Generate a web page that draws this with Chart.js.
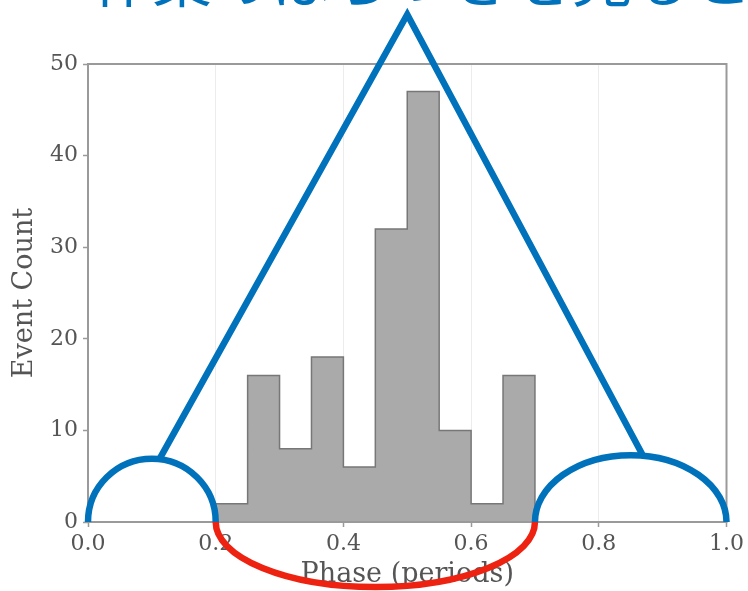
<!DOCTYPE html>
<html>
<head>
<meta charset="utf-8">
<script src="https://cdn.jsdelivr.net/npm/chart.js@4.4.1/dist/chart.umd.min.js"></script>
<style>
  html, body { margin: 0; padding: 0; background: #fff; overflow: hidden; width: 748px; height: 591px; }
</style>
</head>
<body>
<canvas id="chart" width="748" height="591"></canvas>
<script>
// histogram of event phases: bin edges and counts per bin
const binEdges  = [0.20, 0.25, 0.30, 0.35, 0.40, 0.45, 0.50, 0.55, 0.60, 0.65, 0.70];
const binCounts = [2, 16, 8, 18, 6, 32, 47, 10, 2, 16];

// axis ticks and texts
const xTicks = [0.0, 0.2, 0.4, 0.6, 0.8, 1.0];
const yTicks = [0, 10, 20, 30, 40, 50];
const headingText = '作業のばらつきを見ると';
const xTitle = 'Phase (periods)';
const yTitle = 'Event Count';

// hand-drawn sketch over the plot, in data units (phase, count)
const sketchApex      = [0.50, 55.4];
const sketchLeftFoot  = [0.113, 7.0];
const sketchRightFoot = [0.868, 7.4];
const leftHump   = { cx: 0.10, rx: 0.10, ry: 6.9 };
const rightHump  = { cx: 0.85, rx: 0.15, ry: 7.3 };
const bottomBowl = { cx: 0.45, rx: 0.25, ry: 7.1 };

const BLUE = '#0072bb';
const RED  = '#ee2211';
const INK  = '#555555';

// outline of the stepped histogram: up at the first edge, across each bin, down at the last edge
const histPoints = [{ x: binEdges[0], y: 0 }];
binCounts.forEach((c, i) => histPoints.push({ x: binEdges[i], y: c }));
histPoints.push({ x: binEdges[binEdges.length - 1], y: binCounts[binCounts.length - 1] });
histPoints.push({ x: binEdges[binEdges.length - 1], y: 0 });

// large heading whose upper part runs off the top edge of the canvas
const heading = {
  id: 'heading',
  afterDraw(chart) {
    const { ctx } = chart;
    ctx.save();
    ctx.fillStyle = BLUE;
    ctx.font = "60px 'Noto Sans CJK JP', sans-serif";
    ctx.textAlign = 'left';
    ctx.textBaseline = 'alphabetic';
    ctx.fillText(headingText, 92, 2);
    ctx.restore();
  }
};

const frame = {
  id: 'frame',
  afterDatasetsDraw(chart) {
    const { ctx, chartArea: a } = chart;
    ctx.save();
    ctx.strokeStyle = '#9a9a9a';
    ctx.lineWidth = 2;
    ctx.strokeRect(a.left, a.top, a.right - a.left, a.bottom - a.top);
    ctx.restore();
  }
};

const sketch = {
  id: 'sketch',
  afterDraw(chart) {
    const { ctx } = chart;
    const xs = chart.scales.x, ys = chart.scales.y;
    const px = v => xs.getPixelForValue(v);
    const py = v => ys.getPixelForValue(v);
    const unitX = px(1) - px(0);
    const unitY = py(0) - py(1);
    ctx.save();
    ctx.lineWidth = 6.5;
    ctx.lineJoin = 'miter';
    ctx.lineCap = 'butt';

    // triangle legs
    ctx.strokeStyle = BLUE;
    ctx.beginPath();
    ctx.moveTo(px(sketchLeftFoot[0]), py(sketchLeftFoot[1]));
    ctx.lineTo(px(sketchApex[0]), py(sketchApex[1]));
    ctx.lineTo(px(sketchRightFoot[0]), py(sketchRightFoot[1]));
    ctx.stroke();

    // two humps standing on the axis
    [leftHump, rightHump].forEach(h => {
      ctx.beginPath();
      ctx.ellipse(px(h.cx), py(0), h.rx * unitX, h.ry * unitY, 0, Math.PI, 2 * Math.PI);
      ctx.stroke();
    });

    // bowl hanging under the axis
    ctx.strokeStyle = RED;
    ctx.beginPath();
    ctx.ellipse(px(bottomBowl.cx), py(0), bottomBowl.rx * unitX, bottomBowl.ry * unitY, 0, 0, Math.PI);
    ctx.stroke();
    ctx.restore();
  }
};

Chart.defaults.font.family = "'DejaVu Serif', serif";
Chart.defaults.color = INK;

new Chart(document.getElementById('chart'), {
  type: 'line',
  data: {
    datasets: [{
      label: yTitle,
      data: histPoints,
      stepped: 'before',
      fill: 'origin',
      backgroundColor: '#aaaaaa',
      borderColor: '#777777',
      borderWidth: 1.5,
      pointRadius: 0
    }]
  },
  options: {
    responsive: false,
    animation: false,
    layout: { padding: { left: 0, right: 21, top: 64, bottom: 0 } },
    plugins: {
      legend: { display: false },
      tooltip: { enabled: false },
      title: { display: false }
    },
    scales: {
      x: {
        type: 'linear',
        min: 0,
        max: 1,
        afterBuildTicks: s => { s.ticks = xTicks.map(v => ({ value: v })); },
        afterFit: s => { s.height = 69; },
        ticks: { callback: v => Number(v).toFixed(1), font: { size: 22 }, color: INK, padding: 4, maxRotation: 0 },
        grid: { color: '#ececec', lineWidth: 1, tickColor: '#9a9a9a', tickLength: 5, tickWidth: 1.5 },
        border: { display: false },
        title: { display: true, text: xTitle, color: INK, font: { size: 27 }, padding: { top: 0, bottom: 0 } }
      },
      y: {
        type: 'linear',
        min: 0,
        max: 50,
        afterBuildTicks: s => { s.ticks = yTicks.map(v => ({ value: v })); },
        afterFit: s => { s.width = 88; },
        ticks: { font: { size: 22 }, color: INK, padding: 5 },
        grid: { drawOnChartArea: false, tickColor: '#9a9a9a', tickLength: 5, tickWidth: 1.5 },
        border: { display: false },
        title: { display: true, text: yTitle, color: INK, font: { size: 27 }, padding: { top: 9, bottom: 0 } }
      }
    }
  },
  plugins: [frame, heading, sketch]
});
</script>
</body>
</html>
